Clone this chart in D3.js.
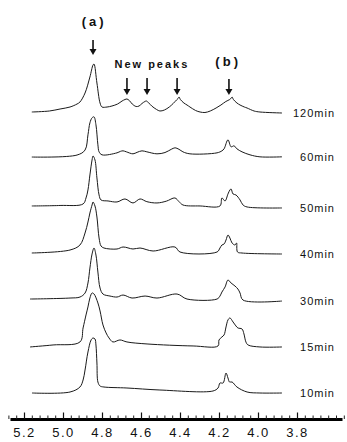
<!DOCTYPE html>
<html><head><meta charset="utf-8">
<script src="https://cdn.jsdelivr.net/npm/d3@7"></script>
<style>body{margin:0;background:#fff}svg{display:block}</style>
</head><body>
<svg id="c" width="347" height="442"></svg>
<script>
// ---- data (chemical shift in ppm, intensity in a.u.) ----
const labels = ["120min","60min","50min","40min","30min","15min","10min"];
const majorTicks = [5.2,5.0,4.8,4.6,4.4,4.2,4.0,3.8];
const peakA = 4.846;
const newPeaks = [4.672, 4.569, 4.415];
const peakB = 4.149;

const s120 = [[5.16,1],[5.07,2],[5.015,4],[4.964,6],[4.928,9],[4.913,11],[4.887,20],[4.862,36],[4.846,48],[4.841,49],[4.826,30],[4.81,10],[4.8,6],[4.774,6],[4.749,7],[4.72,9],[4.697,12],[4.682,13.5],[4.672,14],[4.66,12.5],[4.645,9],[4.625,6.5],[4.61,7],[4.595,9.5],[4.58,11.5],[4.572,12],[4.56,10],[4.545,7],[4.52,3.5],[4.503,2],[4.48,3],[4.455,6],[4.435,9.5],[4.418,13],[4.41,14.5],[4.405,16],[4.398,13.5],[4.38,10],[4.364,8],[4.349,6],[4.32,2.5],[4.297,1],[4.272,0.5],[4.245,2],[4.215,5],[4.19,8],[4.165,11.5],[4.145,13.5],[4.137,15],[4.133,16],[4.126,13.5],[4.108,10],[4.092,8],[4.07,6],[4.056,5],[4.02,2],[3.99,1],[3.877,0]];
const s60 = [[5.16,2.8],[4.928,4.8],[4.887,9.8],[4.872,25],[4.862,37],[4.851,42],[4.841,43],[4.831,35],[4.821,15],[4.815,8],[4.8,5],[4.723,7],[4.705,8.5],[4.692,9],[4.675,8],[4.641,6],[4.62,7.5],[4.595,9],[4.57,8],[4.518,6],[4.477,7.3],[4.445,10.5],[4.426,12],[4.405,10.5],[4.385,8],[4.349,6],[4.21,7],[4.185,9],[4.174,11],[4.154,20],[4.138,13],[4.123,14],[4.108,11],[4.082,8],[4.041,5],[3.99,3],[3.877,3]];
const s50 = [[5.16,0.7],[5.015,1.2],[4.897,2.7],[4.882,8.7],[4.872,16.7],[4.862,31.7],[4.851,46.7],[4.846,50.7],[4.836,46.7],[4.826,28.7],[4.815,11.7],[4.805,6.7],[4.769,5.7],[4.723,4.7],[4.682,7.7],[4.641,3.7],[4.605,7.7],[4.57,5],[4.518,3.7],[4.47,5.5],[4.426,8.7],[4.405,5],[4.385,1.7],[4.297,0.7],[4.195,0.7],[4.185,8.7],[4.169,5.7],[4.154,12.7],[4.144,16.7],[4.138,17.7],[4.128,12.7],[4.113,11.7],[4.092,6.7],[4.077,1.7],[4.056,-0.3],[3.877,-1.3]];
const s40 = [[5.16,0.5],[4.964,3.5],[4.913,8.5],[4.887,20.5],[4.872,31.5],[4.862,40.5],[4.851,48.5],[4.846,51.5],[4.836,47.5],[4.826,36.5],[4.815,15.5],[4.805,7.5],[4.79,5.5],[4.723,4.5],[4.692,6.5],[4.641,4.5],[4.605,5.5],[4.538,2.5],[4.426,6.5],[4.4,1.5],[4.21,1.5],[4.195,5.5],[4.185,8.5],[4.174,9.5],[4.164,13.5],[4.154,18.5],[4.144,15.5],[4.133,10.5],[4.118,8.5],[4.11,10.5],[4.105,1.5],[4.082,0.5],[3.877,-0.5]];
const s30 = [[5.169,1.3],[4.964,2.3],[4.913,3.3],[4.887,7.3],[4.872,17.3],[4.862,32.3],[4.851,46.3],[4.841,52.3],[4.831,45.3],[4.821,28.3],[4.81,12.3],[4.795,6.3],[4.759,4.3],[4.723,3.3],[4.692,5.3],[4.646,2.3],[4.579,4.3],[4.518,2.3],[4.415,6.3],[4.364,1.3],[4.21,1.3],[4.195,4.3],[4.185,8.3],[4.169,13.3],[4.154,20.3],[4.138,17.3],[4.118,14.3],[4.103,11.3],[4.092,7.3],[4.077,0.3],[3.877,-0.7]];
const s15 = [[5.169,0.2],[5.051,2.2],[4.913,5.2],[4.897,19.2],[4.882,32.2],[4.872,40.2],[4.862,49.2],[4.851,54.2],[4.841,53.2],[4.821,44.2],[4.81,36.2],[4.795,22.2],[4.779,14.2],[4.764,9.2],[4.744,5.2],[4.708,7.2],[4.672,5.2],[4.569,3.2],[4.333,1.2],[4.205,1.2],[4.2,7.2],[4.185,10.2],[4.174,12.2],[4.164,20.2],[4.154,27.2],[4.144,29.2],[4.128,25.2],[4.113,21.2],[4.103,19.2],[4.082,18.2],[4.072,13.2],[4.062,5.2],[4.051,2.2],[3.99,0.2],[3.877,0.2]];
const s10 = [[5.159,1],[4.964,2],[4.913,7],[4.897,14],[4.887,24],[4.872,42],[4.856,54],[4.846,56],[4.836,55],[4.831,49],[4.826,31],[4.821,12],[4.81,8],[4.79,7],[4.672,6],[4.503,4],[4.231,3],[4.205,6],[4.195,11],[4.179,11],[4.164,21],[4.154,16],[4.146,12],[4.133,12],[4.108,7],[4.056,2],[3.99,1],[3.877,1]];
const spectra = [s120, s60, s50, s40, s30, s15, s10];

// ---- scales ----
const svg = d3.select("#c");
const x = d3.scaleLinear().domain([5.2, 3.8]).range([24, 297]);
const base = d3.scalePoint().domain(labels).range([113, 394]);
const yInt = d3.scaleLinear().domain([0, 60]).range([0, 60]);

// ---- spectra ----
labels.forEach((lab, i) => {
  const b = base(lab);
  const line = d3.line()
    .x(d => x(d[0]))
    .y(d => b - yInt(d[1]))
    .curve(d3.curveCatmullRom.alpha(0.5));
  svg.append("path")
    .datum(spectra[i])
    .attr("d", line)
    .attr("fill", "none")
    .attr("stroke", "#1a1a1a")
    .attr("stroke-width", 1)
    .attr("stroke-linejoin", "round");
  const last = spectra[i][spectra[i].length - 1];
  svg.append("text")
    .attr("x", 335)
    .attr("y", b - yInt(last[1]))
    .attr("dy", "0.35em")
    .attr("text-anchor", "end")
    .attr("font-family", "Liberation Sans, Arial, sans-serif")
    .attr("font-size", 11)
    .attr("letter-spacing", "1px")
    .attr("fill", "#111")
    .text(lab);
});

// ---- axis ----
const xa = x.copy().domain([x.invert(10), x.invert(342)]).range([10, 342]);
const minorTicks = d3.range(0, 44).map(k => +(5.28 - k * 0.04).toFixed(2)).filter(v => v >= 3.56);
const gMinor = svg.append("g").attr("transform", "translate(0,419)")
  .call(d3.axisBottom(xa).tickValues(minorTicks).tickSizeInner(-3.5).tickSizeOuter(0).tickFormat(""));
gMinor.select(".domain").attr("stroke", "#000").attr("stroke-width", 3);
gMinor.selectAll(".tick line").attr("stroke", "#222").attr("stroke-width", 1);

const gMajor = svg.append("g").attr("transform", "translate(0,419)")
  .call(d3.axisBottom(xa).tickValues(majorTicks).tickSizeInner(-6.5).tickSizeOuter(0).tickPadding(9).tickFormat(d3.format(".1f")));
gMajor.select(".domain").remove();
gMajor.selectAll(".tick line").attr("stroke", "#111").attr("stroke-width", 1.2);
gMajor.selectAll(".tick text")
  .attr("font-family", "Liberation Sans, Arial, sans-serif")
  .attr("font-size", 13)
  .attr("letter-spacing", "1.5px")
  .attr("fill", "#111");

// ---- annotations ----
function arrow(p, y0, y1) {
  const ax = x(p);
  svg.append("line").attr("x1", ax).attr("x2", ax).attr("y1", y0).attr("y2", y1 - 4)
    .attr("stroke", "#111").attr("stroke-width", 1.6);
  svg.append("path").attr("d", `M${ax-3.5},${y1-6}L${ax+3.5},${y1-6}L${ax},${y1}Z`).attr("fill", "#111");
}
function label(p, y, txt, size, ls) {
  svg.append("text").attr("x", x(p)).attr("y", y).attr("dy", "0.35em")
    .attr("text-anchor", "middle")
    .attr("font-family", "Liberation Sans, Arial, sans-serif")
    .attr("font-weight", "bold").attr("font-size", size)
    .attr("letter-spacing", ls + "px").attr("fill", "#111").text(txt);
}
label(peakA - 0.006, 21, "(a)", 13, 3);
arrow(peakA, 40, 55);
label(4.544, 64, "New peaks", 11, 2);
newPeaks.forEach(p => arrow(p, 78, 95));
label(peakB + 0.004, 61, "(b)", 13, 3);
arrow(peakB, 79, 95);
</script>
</body></html>
